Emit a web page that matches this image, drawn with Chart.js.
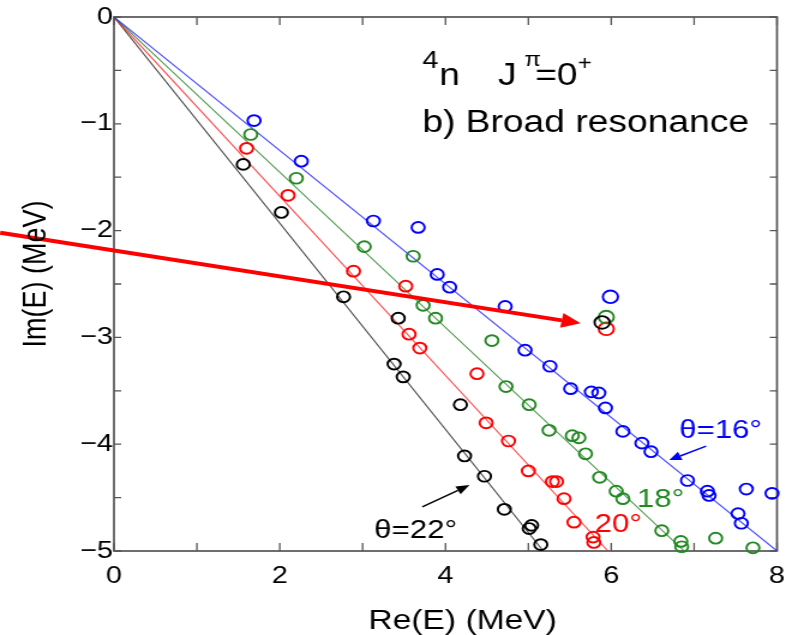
<!DOCTYPE html>
<html>
<head>
<meta charset="utf-8">
<script src="https://cdn.jsdelivr.net/npm/chart.js@4.4.1/dist/chart.umd.min.js"></script>
<style>
  html, body { margin: 0; padding: 0; background: #fff; overflow: hidden; }
  /* the figure is drawn narrow and widened, like the printed plot */
  #plot { display: block; transform: scaleX(1.2); transform-origin: 0 0; }
</style>
</head>
<body>
<canvas id="plot" width="662" height="635"></canvas>
<script>
// CSM eigenvalues of 4n, J^pi = 0+, [Re(E), Im(E)] in MeV
const theta16 = [[1.69, -0.97], [2.26, -1.35], [3.13, -1.91], [3.67, -1.97], [3.90, -2.41], [4.05, -2.53],
  [4.72, -2.71], [4.96, -3.12], [5.26, -3.27], [5.51, -3.48], [5.76, -3.51], [5.85, -3.52], [5.93, -3.66],
  [6.14, -3.88], [6.37, -3.99], [6.48, -4.07], [6.92, -4.34], [7.16, -4.44], [7.18, -4.48], [7.63, -4.42],
  [7.94, -4.46], [7.53, -4.65], [7.57, -4.74]];
const theta18 = [[1.65, -1.10], [2.20, -1.51], [3.02, -2.15], [3.61, -2.24], [3.73, -2.70], [3.88, -2.82],
  [4.56, -3.03], [4.73, -3.46], [5.01, -3.63], [5.25, -3.87], [5.53, -3.92], [5.61, -3.94], [5.69, -4.09],
  [5.86, -4.31], [6.06, -4.44], [6.14, -4.51], [6.61, -4.81], [6.84, -4.91], [6.85, -4.96], [7.26, -4.88],
  [7.71, -4.97]];
const theta20 = [[1.60, -1.23], [2.10, -1.67], [2.89, -2.38], [3.52, -2.52], [3.56, -2.97], [3.69, -3.10],
  [4.38, -3.34], [4.49, -3.80], [4.76, -3.97], [5.00, -4.25], [5.29, -4.35], [5.34, -4.35], [5.43, -4.51],
  [5.55, -4.73], [5.78, -4.87], [5.79, -4.92]];
const theta22 = [[1.56, -1.38], [2.02, -1.83], [2.77, -2.62], [3.43, -2.82], [3.38, -3.25], [3.49, -3.37],
  [4.18, -3.63], [4.23, -4.11], [4.47, -4.30], [4.71, -4.61], [5.04, -4.76], [5.01, -4.79], [5.15, -4.94]];

// the broad resonance, one pole per angle
const pole16 = [[5.99, -2.62]];
const pole18 = [[5.94, -2.81]];
const pole20 = [[5.94, -2.92]];
const pole22 = [[5.89, -2.86]];

// rotated continuum cuts, origin to the lower edge
const cut16 = [[0, 0], [8, -5]];
const cut18 = [[0, 0], [6.88, -5]];
const cut20 = [[0, 0], [5.96, -5]];
const cut22 = [[0, 0], [5.18, -5]];

const xTicks = [0, 2, 4, 6, 8];
const yTicks = [0, -1, -2, -3, -4, -5];
const xMarks = [0, 1, 2, 3, 4, 5, 6, 7, 8];
const yMarks = [0, -0.5, -1, -1.5, -2, -2.5, -3, -3.5, -4, -4.5, -5];

const BLUE = 'rgb(0,0,255)';
const GREEN = 'rgb(34,136,34)';
const RED = 'rgb(255,0,0)';
const BLACK = 'rgb(0,0,0)';
const FONT = "'Liberation Sans', Arial, sans-serif";

// labels placed in data coordinates [Re, Im] (left edge, baseline)
const notes = [
  { text: 'b) Broad resonance', at: [3.72, -1.076], color: BLACK, size: 31 },
  { text: 'θ=16°', at: [6.82, -3.94], color: BLUE, size: 26 },
  { text: '18°', at: [6.31, -4.59], color: GREEN, size: 26 },
  { text: '20°', at: [5.80, -4.82], color: RED, size: 26 },
  { text: 'θ=22°', at: [3.14, -4.88], color: BLACK, size: 26 },
];
const arrows = [
  { from: [-1.373, -2.019], to: [5.63, -2.868], color: RED, width: 4, len: 16, half: 7.5 },
  { from: [7.145, -4.018], to: [6.70, -4.149], color: BLUE, width: 1.5, len: 10, half: 4.5 },
  { from: [3.72, -4.587], to: [4.29, -4.383], color: BLACK, width: 1.5, len: 11, half: 4.5 },
];

const pts = (arr) => arr.map(([x, y]) => ({ x, y }));

const points = (data, color, order, radius) => ({
  type: 'scatter',
  data: pts(data),
  showLine: false,
  pointStyle: 'circle',
  pointRadius: radius,
  pointBorderWidth: 1.9,
  pointBorderColor: color,
  pointBackgroundColor: 'rgba(0,0,0,0)',
  clip: false,
  order,
});

const cut = (data, color) => ({
  type: 'line',
  data: pts(data),
  borderColor: color,
  borderWidth: 1.1,
  pointRadius: 0,
  fill: false,
  order: 20,
});

function drawArrow(ctx, x0, y0, x1, y1, a) {
  const ang = Math.atan2(y1 - y0, x1 - x0);
  const bx = x1 - a.len * Math.cos(ang);
  const by = y1 - a.len * Math.sin(ang);
  ctx.strokeStyle = a.color;
  ctx.fillStyle = a.color;
  ctx.lineWidth = a.width;
  ctx.beginPath();
  ctx.moveTo(x0, y0);
  ctx.lineTo(bx, by);
  ctx.stroke();
  ctx.beginPath();
  ctx.moveTo(x1, y1);
  ctx.lineTo(bx - a.half * Math.sin(ang), by + a.half * Math.cos(ang));
  ctx.lineTo(bx + a.half * Math.sin(ang), by - a.half * Math.cos(ang));
  ctx.closePath();
  ctx.fill();
}

// box with inward ticks on all four sides
const frame = {
  id: 'frame',
  beforeDatasetsDraw(chart) {
    const { ctx, chartArea: { left, right, top, bottom }, scales: { x, y } } = chart;
    ctx.save();
    ctx.strokeStyle = 'rgb(85,85,85)';
    ctx.lineWidth = 1.7;
    ctx.strokeRect(left, top, right - left, bottom - top);
    ctx.lineWidth = 1.3;
    ctx.beginPath();
    xMarks.forEach((v) => {
      const px = x.getPixelForValue(v);
      ctx.moveTo(px, bottom); ctx.lineTo(px, bottom - 8);
      ctx.moveTo(px, top); ctx.lineTo(px, top + 8);
    });
    yMarks.forEach((v) => {
      const py = y.getPixelForValue(v);
      ctx.moveTo(left, py); ctx.lineTo(left + 6, py);
      ctx.moveTo(right, py); ctx.lineTo(right - 6, py);
    });
    ctx.stroke();
    ctx.restore();
  },
};

const annotations = {
  id: 'annotations',
  afterDatasetsDraw(chart) {
    const { ctx, chartArea: { left, right, top, bottom }, scales: { x, y } } = chart;
    ctx.save();

    arrows.forEach((a) => {
      drawArrow(ctx, x.getPixelForValue(a.from[0]), y.getPixelForValue(a.from[1]),
        x.getPixelForValue(a.to[0]), y.getPixelForValue(a.to[1]), a);
    });

    ctx.textBaseline = 'alphabetic';
    ctx.textAlign = 'left';
    notes.forEach((n) => {
      ctx.fillStyle = n.color;
      ctx.font = `${n.size}px ${FONT}`;
      ctx.fillText(n.text, x.getPixelForValue(n.at[0]), y.getPixelForValue(n.at[1]));
    });

    // 4n  J^pi = 0+  with superscripts
    const hx = x.getPixelForValue(3.72);
    const hy = y.getPixelForValue(-0.64);
    const head = [
      { t: '4', dx: 0, dy: -17, size: 24 },
      { t: 'n', dx: 14, dy: 0, size: 31 },
      { t: 'J', dx: 63, dy: 0, size: 31 },
      { t: 'π', dx: 85, dy: -19, size: 20 },
      { t: '=0', dx: 94, dy: 0, size: 31 },
      { t: '+', dx: 129.5, dy: -15, size: 20 },
    ];
    ctx.fillStyle = BLACK;
    head.forEach((p) => {
      ctx.font = `${p.size}px ${FONT}`;
      ctx.fillText(p.t, hx + p.dx, hy + p.dy);
    });

    // axis titles
    ctx.font = `28px ${FONT}`;
    ctx.fillText('Re(E) (MeV)', 307, bottom + 78);
    ctx.translate(left - 66, (top + bottom) / 2 - 10);
    ctx.rotate(-Math.PI / 2);
    ctx.textAlign = 'center';
    ctx.font = `27px ${FONT}`;
    ctx.fillText('Im(E) (MeV)', 0, 9);
    ctx.restore();
  },
};

const ctx = document.getElementById('plot').getContext('2d');
new Chart(ctx, {
  type: 'scatter',
  data: {
    datasets: [
      points(pole22, BLACK, 1, 6.3),
      points(pole20, RED, 3, 6.3),
      points(pole18, GREEN, 2, 6.3),
      points(pole16, BLUE, 4, 6.3),
      points(theta22, BLACK, 5, 5.4),
      points(theta20, RED, 6, 5.4),
      points(theta18, GREEN, 7, 5.4),
      points(theta16, BLUE, 8, 5.4),
      cut(cut16, 'rgba(40,40,255,0.85)'),
      cut(cut18, 'rgba(40,130,40,0.85)'),
      cut(cut20, 'rgba(255,40,40,0.85)'),
      cut(cut22, 'rgba(40,40,40,0.85)'),
    ],
  },
  options: {
    responsive: false,
    devicePixelRatio: 1,
    animation: false,
    layout: { padding: { top: 17, right: 14.5, left: 0, bottom: 0 } },
    plugins: { legend: { display: false }, tooltip: { enabled: false } },
    scales: {
      x: {
        type: 'linear',
        min: 0,
        max: 8,
        afterBuildTicks: (scale) => { scale.ticks = xTicks.map((value) => ({ value })); },
        afterFit: (scale) => {
          scale.height = 84;
          scale.paddingLeft = 0;
          scale.paddingRight = 0;
        },
        grid: { display: false, drawTicks: false },
        border: { display: false },
        ticks: {
          padding: 11,
          color: BLACK,
          font: { family: FONT, size: 24 },
          maxRotation: 0,
          callback: (v) => String(v),
        },
      },
      y: {
        type: 'linear',
        min: -5,
        max: 0,
        afterBuildTicks: (scale) => { scale.ticks = yTicks.map((value) => ({ value })); },
        afterFit: (scale) => {
          scale.width = 95;
          scale.paddingTop = 0;
          scale.paddingBottom = 0;
        },
        grid: { display: false, drawTicks: false },
        border: { display: false },
        ticks: {
          padding: 1,
          color: BLACK,
          font: { family: FONT, size: 24 },
          callback: (v) => (v === 0 ? '0' : '\u2212' + Math.abs(v)),
        },
      },
    },
  },
  plugins: [frame, annotations],
});
</script>
</body>
</html>
